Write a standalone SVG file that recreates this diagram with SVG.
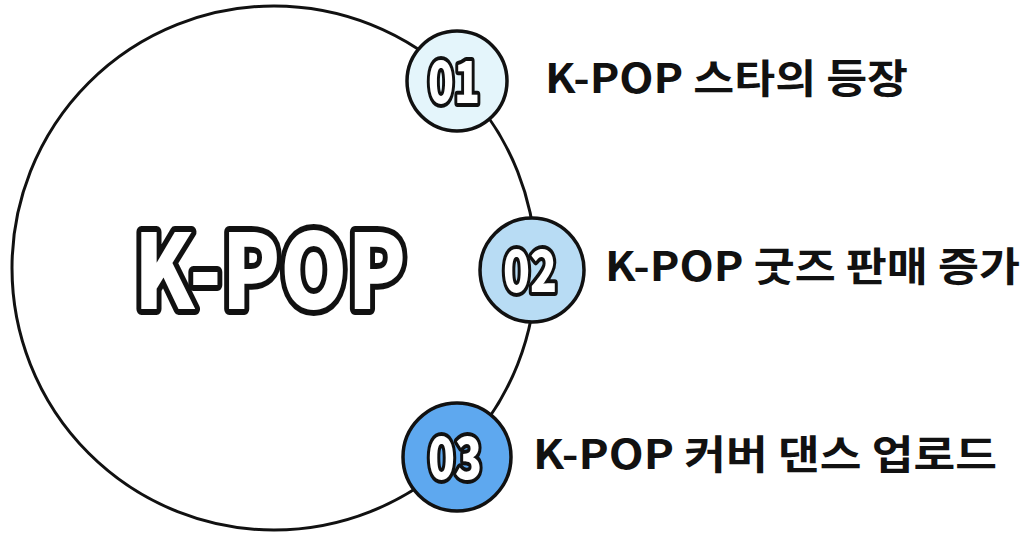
<svg xmlns="http://www.w3.org/2000/svg" width="1032" height="535" viewBox="0 0 1032 535">
  <style>
    .ring { fill: none; stroke: #111; stroke-width: 3; }
    .badge { stroke: #111; stroke-width: 3.5; }
    .num { font-family: "Noto Sans CJK KR", "Noto Sans", sans-serif; font-weight: 900; font-size: 58px; fill: #fff; stroke: #111; stroke-width: 8; stroke-linejoin: round; paint-order: stroke; text-anchor: middle; }
    .title { font-family: "Noto Sans CJK KR", "Noto Sans", sans-serif; font-weight: 900; font-size: 104px; fill: #fff; stroke: #111; stroke-width: 12; stroke-linejoin: round; paint-order: stroke; text-anchor: middle; }
    .label { font-family: "Noto Sans CJK KR", sans-serif; font-weight: 700; font-size: 40px; fill: #111; }
  </style>
  <rect width="1032" height="535" fill="#fff"/>

  <!-- outer ring joining the three steps -->
  <g id="connectors">
    <circle class="ring" cx="274" cy="268" r="262"/>
  </g>

  <g id="center">
    <text class="title" x="270" y="309" textLength="272" lengthAdjust="spacingAndGlyphs">K-POP</text>
  </g>

  <g id="step1">
    <circle class="badge" cx="457" cy="81" r="50" fill="#e4f5fb"/>
    <text class="num" x="454" y="103" textLength="52" lengthAdjust="spacingAndGlyphs">01</text>
    <text class="label" x="545" y="93" textLength="363" lengthAdjust="spacingAndGlyphs">K-POP 스타의 등장</text>
  </g>

  <g id="step2">
    <circle class="badge" cx="532" cy="270" r="52" fill="#b8dcf4"/>
    <text class="num" x="530" y="292" textLength="54" lengthAdjust="spacingAndGlyphs">02</text>
    <text class="label" x="605" y="281" textLength="415" lengthAdjust="spacingAndGlyphs">K-POP 굿즈 판매 증가</text>
  </g>

  <g id="step3">
    <circle class="badge" cx="457" cy="457" r="54" fill="#5ea8ef"/>
    <text class="num" x="455" y="479" textLength="54" lengthAdjust="spacingAndGlyphs">03</text>
    <text class="label" x="533" y="469" textLength="464" lengthAdjust="spacingAndGlyphs">K-POP 커버 댄스 업로드</text>
  </g>
</svg>
